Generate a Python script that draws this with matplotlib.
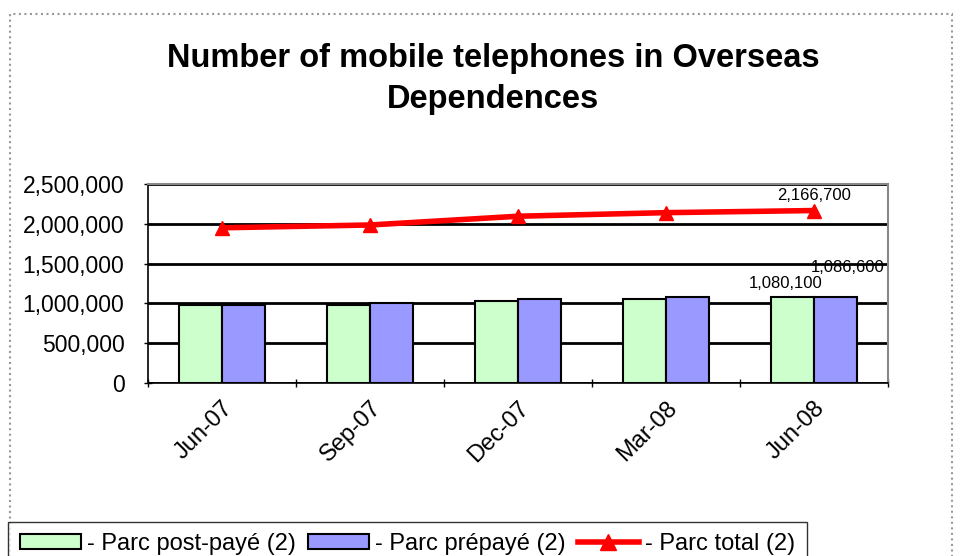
import numpy as np
import matplotlib.pyplot as plt
from matplotlib.patches import Patch, Rectangle
from matplotlib.lines import Line2D

plt.rcParams['font.family'] = ['Liberation Sans', 'DejaVu Sans']

quarters = ['Jun-07', 'Sep-07', 'Dec-07', 'Mar-08', 'Jun-08']
post_paye = [975000, 980000, 1035000, 1060000, 1080100]
prepaye = [975000, 1005000, 1060000, 1080000, 1086600]
total = [1950000, 1985000, 2095000, 2140000, 2166700]
y_ticks = [0, 500000, 1000000, 1500000, 2000000, 2500000]

fig = plt.figure(figsize=(9.62, 5.56), dpi=100)
ax = fig.add_axes([148 / 962, 1 - 383 / 556, 740 / 962, 199 / 556])

x = np.arange(len(quarters))
w = 0.29
ax.bar(x - w / 2, post_paye, w, color='#CCFFCC', edgecolor='black', linewidth=1.5, zorder=3)
ax.bar(x + w / 2, prepaye, w, color='#9999FF', edgecolor='black', linewidth=1.5, zorder=3)
ax.plot(x, total, color='#FF0000', linewidth=4, marker='^', markersize=10, zorder=4)

ax.set_xlim(-0.5, len(quarters) - 0.5)
ax.set_ylim(0, 2500000)
ax.set_yticks(y_ticks)
ax.set_yticklabels(['{:,}'.format(v) for v in y_ticks], fontsize=16.5)
ax.yaxis.grid(True, color='black', linewidth=2, zorder=0)
ax.set_axisbelow(True)

ax.set_xticks(np.arange(len(quarters) + 1) - 0.5, minor=False)
ax.set_xticklabels([])
ax.set_xticks(x, minor=True)
ax.set_xticklabels(quarters, minor=True, rotation=45, ha='right', va='top',
                   rotation_mode='anchor', fontsize=17)
ax.tick_params(axis='x', which='minor', length=0, pad=10)
ax.tick_params(axis='x', which='major', length=6, direction='inout', width=1)
ax.tick_params(axis='y', length=6, direction='inout', width=1, pad=14)

for s in ['top', 'right']:
    ax.spines[s].set_color('#888888')
    ax.spines[s].set_linewidth(1.5)
ax.spines['left'].set_linewidth(1.2)
ax.spines['bottom'].set_linewidth(1.2)

# data labels on last quarter
ax.text(x[-1], total[-1] + 90000, '{:,}'.format(total[-1]), ha='center', va='bottom', fontsize=12)
ax.text(x[-1] - w / 2 - 0.05, post_paye[-1] + 80000, '{:,}'.format(post_paye[-1]),
        ha='center', va='bottom', fontsize=12)
ax.text(x[-1] + w / 2 + 0.08, prepaye[-1] + 270000, '{:,}'.format(prepaye[-1]),
        ha='center', va='bottom', fontsize=12)

fig.text(493 / 962, 1 - 79 / 556, 'Number of mobile telephones in Overseas\nDependences',
         ha='center', va='center', fontsize=23.5, fontweight='bold', linespacing=1.45)

# chart area border
fig.patches.append(Rectangle((10 / 962, -0.1), 942 / 962, 1.1 - 14 / 556,
                             transform=fig.transFigure, fill=False,
                             edgecolor='#999999', linewidth=1.5, linestyle=':'))

handles = [
    Patch(facecolor='#CCFFCC', edgecolor='black', linewidth=1.5),
    Patch(facecolor='#9999FF', edgecolor='black', linewidth=1.5),
    Line2D([], [], color='#FF0000', linewidth=4, marker='^', markersize=11),
]
labels = ['- Parc post-payé (2)', '- Parc prépayé (2)', '- Parc total (2)']
leg = fig.legend(handles, labels, loc='lower left', bbox_to_anchor=(8 / 962, -0.02),
                 ncol=3, fontsize=17, frameon=True, fancybox=False, edgecolor='black',
                 handlelength=2.6, handleheight=0.6, handletextpad=0.25, columnspacing=0.5,
                 borderpad=0.5, borderaxespad=0)
leg.get_frame().set_linewidth(1)

fig.savefig('out.png', dpi=100)
